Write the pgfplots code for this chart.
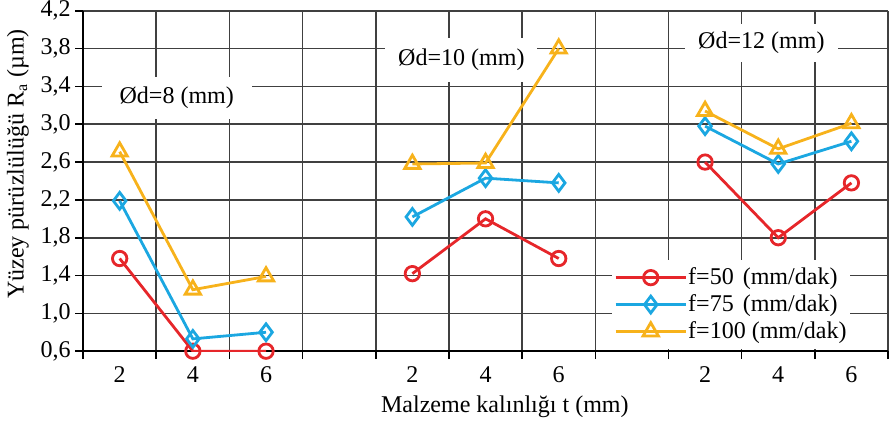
\documentclass[border=0pt]{standalone}
\usepackage{pgfplots}
\pgfplotsset{compat=1.18}
\usepackage{fontspec}
\setmainfont{Liberation Serif}
\definecolor{cred}{RGB}{230,38,42}
\definecolor{cblue}{RGB}{27,167,225}
\definecolor{cyel}{RGB}{247,178,27}
\begin{document}
\begin{tikzpicture}
\begin{axis}[
  scale only axis,
  width=402pt, height=170pt,
  xmin=0, xmax=11, ymin=0.6, ymax=4.2,
  axis x line*=bottom, axis y line*=left,
  axis line style={-, line width=1.3pt, black},
  xtick={0.5,1.5,2.5,4.5,5.5,6.5,8.5,9.5,10.5},
  xticklabels={2,4,6,2,4,6,2,4,6},
  major x tick style={draw=none},
  minor xtick={0,1,...,11},
  minor tick length=4pt,
  tick align=outside,
  xminorgrids=true,
  ytick={0.6,1.0,1.4,1.8,2.2,2.6,3.0,3.4,3.8,4.2},
  ymajorgrids=true,
  major tick length=4pt,
  grid style={black!75, line width=0.8pt},
  minor grid style={black!75, line width=0.8pt},
  tick style={black, line width=0.8pt},
  yticklabel style={/pgf/number format/.cd, fixed, fixed zerofill, precision=1, use comma, assume math mode=true, /tikz/.cd, inner ysep=0.5pt, inner xsep=2pt},
  ticklabel style={font=\fontsize{12}{14}\selectfont},
  xticklabel style={yshift=0pt},
  xlabel={Malzeme kalınlığı t (mm)},
  ylabel={Yüzey pürüzlülüğü R\textsubscript{a} (µm)},
  label style={font=\fontsize{12}{14}\selectfont},
  xlabel style={at={(axis description cs:0.524,-0.162)}, anchor=center},
  ylabel style={at={(axis description cs:-0.081,0.55)}, anchor=center},
  unbounded coords=jump,
  every axis plot/.append style={line width=1.4pt, mark options={solid, fill=white, line width=1.4pt}},
  legend image code/.code={\draw[mark repeat=2,mark phase=2,#1] plot coordinates {(0pt,0pt) (17.5pt,0pt) (35pt,0pt)};},
  legend style={at={(0.657,0.27)}, anchor=north west, draw=none, fill=white,
    font=\fontsize{12}{13}\selectfont, row sep=-0.5pt, inner xsep=1pt, inner ysep=2pt,
    nodes={inner xsep=0.5pt}},
  legend cell align=left,
]
\node[fill=white, minimum width=75pt, minimum height=21pt, inner sep=0pt, font=\fontsize{12}{14}\selectfont] at (axis cs:1.28,3.28) {Ød=8 (mm)};
\node[fill=white, minimum width=76pt, minimum height=22pt, inner sep=0pt, font=\fontsize{12}{14}\selectfont] at (axis cs:5.17,3.68) {Ød=10 (mm)};
\node[fill=white, minimum width=76pt, minimum height=19pt, inner sep=0pt, font=\fontsize{12}{14}\selectfont] at (axis cs:9.27,3.86) {Ød=12 (mm)};
\addplot[color=cred, mark=o, mark size=3.6pt] coordinates {
 (0.5,1.58) (1.5,0.60) (2.5,0.60) (3.5,nan)
 (4.5,1.42) (5.5,2.00) (6.5,1.58) (7.5,nan)
 (8.5,2.60) (9.5,1.80) (10.5,2.38)};
\addplot[color=cblue, mark=diamond, mark size=4.2pt] coordinates {
 (0.5,2.19) (1.5,0.73) (2.5,0.80) (3.5,nan)
 (4.5,2.02) (5.5,2.43) (6.5,2.38) (7.5,nan)
 (8.5,2.98) (9.5,2.58) (10.5,2.82)};
\addplot[color=cyel, mark=triangle, mark size=4.4pt] coordinates {
 (0.5,2.71) (1.5,1.25) (2.5,1.39) (3.5,nan)
 (4.5,2.58) (5.5,2.59) (6.5,3.80) (7.5,nan)
 (8.5,3.14) (9.5,2.74) (10.5,3.01)};
\legend{f=50\hspace{4.5pt}(mm/dak), f=75\hspace{4.5pt}(mm/dak), f=100 (mm/dak)}
\end{axis}
\path ([shift={(-41.5pt,-35.5pt)}]current axis.south west) rectangle ([shift={(1pt,5pt)}]current axis.north east);
\end{tikzpicture}
\end{document}
